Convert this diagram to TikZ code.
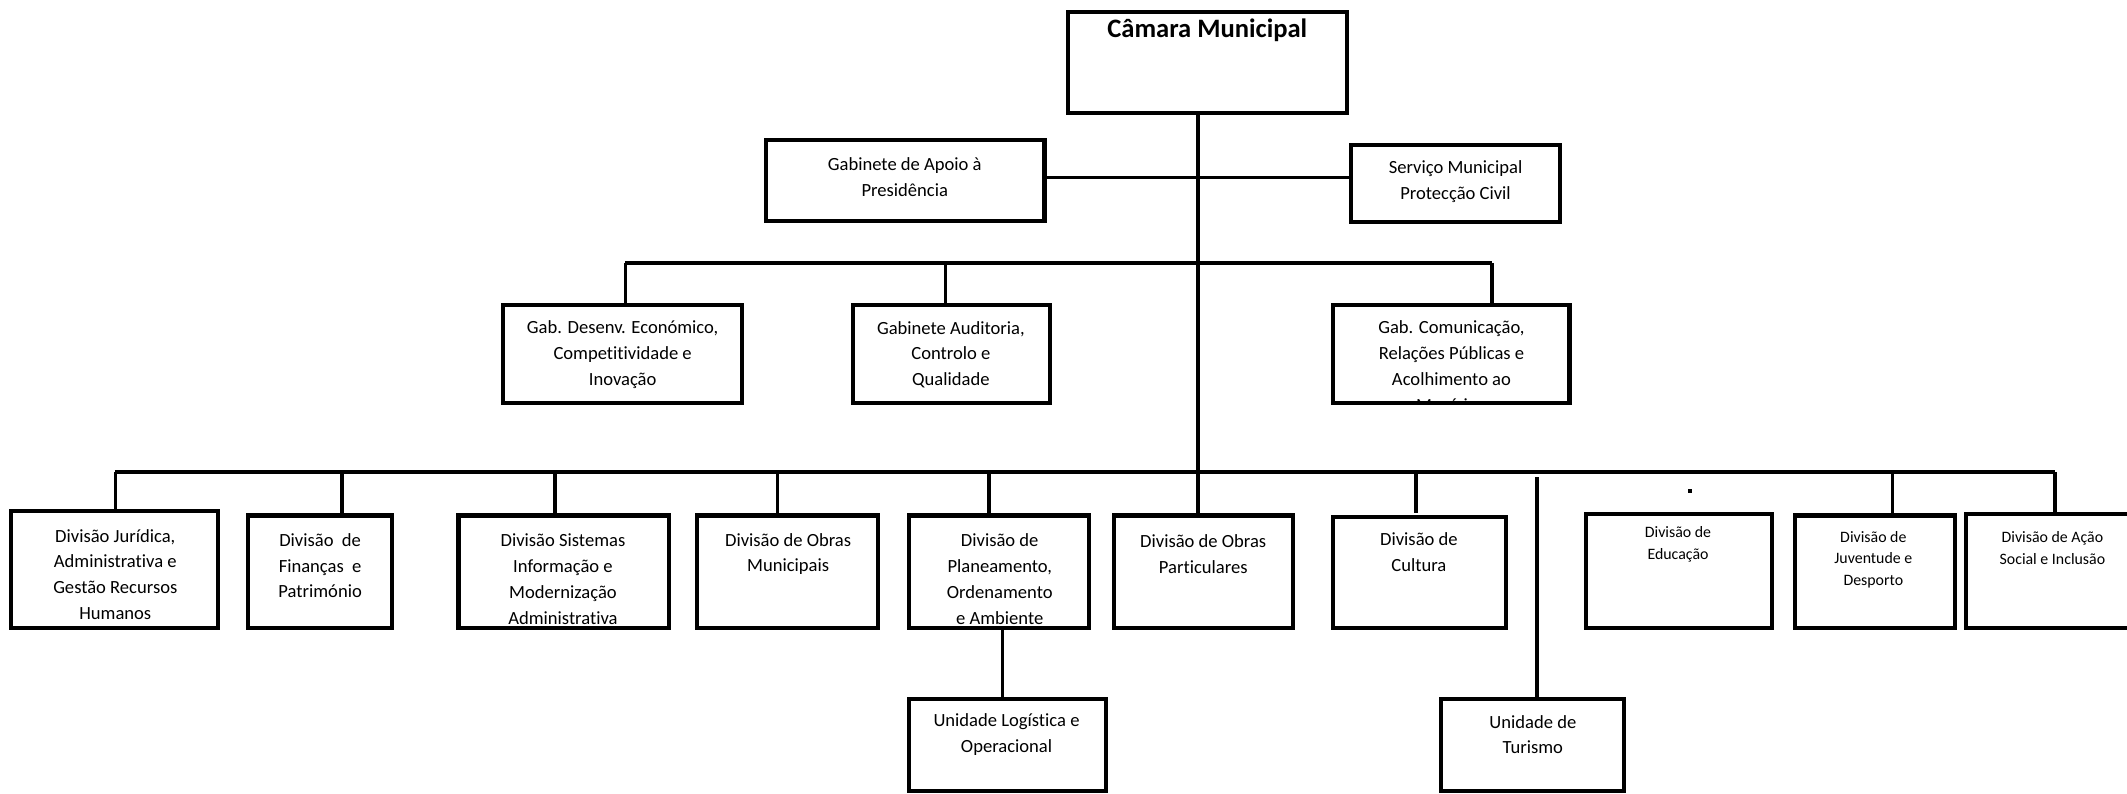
\documentclass[tikz,border=0pt]{standalone}
\usepackage{fontspec}
\setmainfont{Carlito}[Ligatures=NoCommon]
\tikzset{
  box/.style={draw, line width=3pt, inner sep=0pt, outer sep=0pt},
  txt/.style={align=center, inner sep=0pt, font=\fontsize{13.7}{19}\selectfont},
  stxt/.style={align=center, inner sep=0pt, font=\fontsize{11.7}{16}\selectfont},
  conn/.style={line width=2.6pt},
}
\begin{document}
\begin{tikzpicture}[x=1pt,y=-1pt]
\useasboundingbox (0,0) rectangle (1568,585);
% texts
\node[inner sep=0pt, font=\fontsize{19.6}{24}\selectfont\bfseries] (cmt) at (890,22) {Câmara Municipal};
\node[txt] (gapt) at (667,130.5) {Gabinete de Apoio à\\Presidência};
\node[txt] (smpct) at (1073,134) {Serviço Municipal\\Protecção Civil};
\node[txt] (gdet) at (459,261.5) {Gab. Desenv. Económico,\\Competitividade e\\Inovação};
\node[txt] (gact) at (701,261.5) {Gabinete Auditoria,\\Controlo e\\Qualidade};
\begin{scope}
\clip (983,225) rectangle (1157,298.5);
\node[txt] (gcrt) at (1070,271) {Gab. Comunicação,\\Relações Públicas e\\Acolhimento ao\\Munícipe};
\end{scope}
\node[txt] (d1t) at (85,423.5) {Divisão Jurídica,\\Administrativa e\\Gestão Recursos\\Humanos};
\node[txt] (d2t) at (236,417) {Divisão~ de\\Finanças~ e\\Património};
\node[txt] (d3t) at (415,427) {Divisão Sistemas\\Informação e\\Modernização\\Administrativa};
\node[txt] (d4t) at (581,408.5) {Divisão de Obras\\Municipais};
\node[txt] (d5t) at (737,427) {Divisão de\\Planeamento,\\Ordenamento\\e Ambiente};
\node[txt] (d6t) at (887,408.5) {Divisão de Obras\\Particulares};
\node[txt] (d7t) at (1046,407) {Divisão de\\Cultura};
\node[stxt] (d8t) at (1237,401.5) {Divisão de\\Educação};
\node[stxt] (d9t) at (1381,412.5) {Divisão de\\Juventude e\\Desporto};
\node[stxt] (d10t) at (1513,404) {Divisão de Ação\\Social e Inclusão};
\node[txt] (ulot) at (742,541.5) {Unidade Logística e\\Operacional};
\node[txt] (utt) at (1130,541.5) {Unidade de\\Turismo};
% boxes
\node[box, minimum width=206, minimum height=74] (cm) at (890,46) {};
\node[box, minimum width=205, minimum height=60] (gap) at (667.5,133) {};
\node[box, minimum width=154, minimum height=57] (smpc) at (1073,135.5) {};
\node[box, minimum width=176, minimum height=72] (gde) at (459,261) {};
\node[box, minimum width=145, minimum height=72] (gac) at (701.5,261) {};
\node[box, minimum width=174, minimum height=72] (gcr) at (1070,261) {};
\node[box, minimum width=153, minimum height=86] (d1) at (84.5,420) {};
\node[box, minimum width=106, minimum height=83] (d2) at (236,421.5) {};
\node[box, minimum width=155, minimum height=83] (d3) at (415.5,421.5) {};
\node[box, minimum width=133, minimum height=83] (d4) at (580.5,421.5) {};
\node[box, minimum width=133, minimum height=83] (d5) at (736.5,421.5) {};
\node[box, minimum width=132, minimum height=83] (d6) at (887,421.5) {};
\node[box, minimum width=127, minimum height=82] (d7) at (1046.5,422) {};
\node[box, minimum width=137, minimum height=84] (d8) at (1237.5,421) {};
\node[box, minimum width=118, minimum height=83] (d9) at (1382,421.5) {};
\node[box, minimum width=128, minimum height=84] (d10) at (1513,421) {};
\node[box, minimum width=145, minimum height=68] (ulo) at (742.5,549) {};
\node[box, minimum width=135, minimum height=68] (ut) at (1129.5,549) {};
% bus coordinates
\coordinate (top) at (883,83);
\coordinate (b2L) at (461,194);
\coordinate (b2R) at (1100,194);
\coordinate (b3L) at (85,348);
\coordinate (b3R) at (1515,348);
\coordinate (b3C) at (883,348);
\coordinate (cultEnd) at (1044,378);
\coordinate (turS) at (1133,352);
% connectors
\draw[conn] (top) -- (b3C) -- (b3C |- d6.north);
\draw[conn] (gap.east |- 0,131) -- (smpc.west |- 0,131);
\draw[conn] (b2L) -- (b2R);
\draw[conn] (b2L) -- (b2L |- gde.north);
\draw[conn] (697,194) -- (697,225);
\draw[conn] (b2R) -- (b2R |- gcr.north);
\draw[conn] (b3L) -- (b3R);
\draw[conn] (b3L) -- (b3L |- d1.north);
\draw[conn] (252,348) -- (252,380);
\draw[conn] (409,348) -- (409,380);
\draw[conn] (573,348) -- (573,380);
\draw[conn] (729,348) -- (729,380);
\draw[conn] (1044,348) -- (cultEnd);
\draw[conn] (1395,348) -- (1395,380);
\draw[conn] (b3R) -- (b3R |- d10.north);
\draw[conn] (turS) -- (turS |- ut.north);
\draw[conn] (739,463) -- (739,515);
\fill (1244.5,360.5) rectangle (1247.5,363.5);
\end{tikzpicture}
\end{document}
